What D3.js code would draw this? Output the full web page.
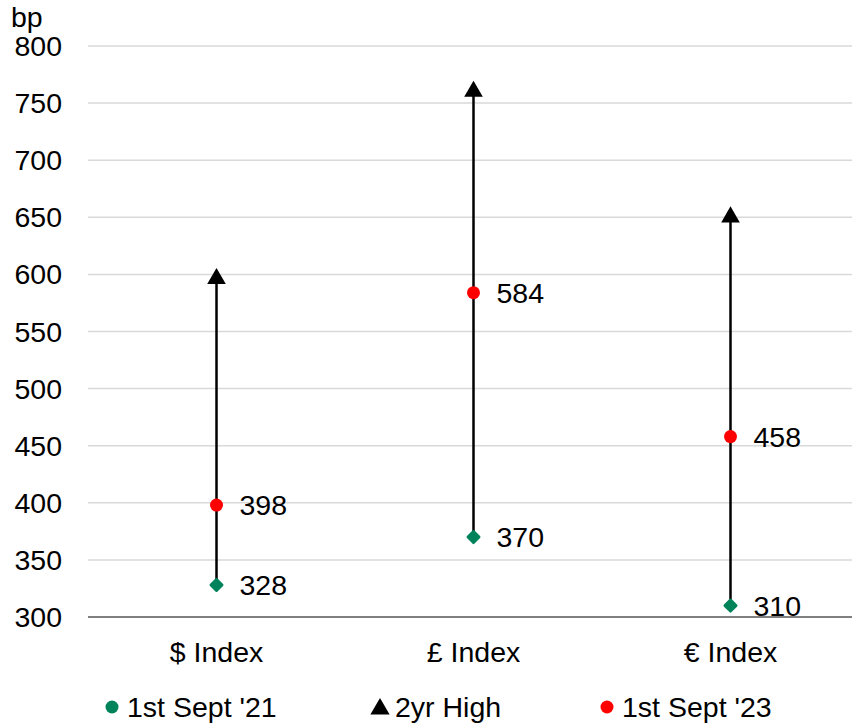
<!DOCTYPE html>
<html>
<head>
<meta charset="utf-8">
<script src="https://cdn.jsdelivr.net/npm/d3@7"></script>
<style>
  body { margin: 0; background: #fff; }
  svg text { font-family: "Liberation Sans", Arial, sans-serif; fill: #000; }
</style>
</head>
<body>
<svg id="chart" width="852" height="724"></svg>
<script>
// Spread indices, in basis points
const categories = ["$ Index", "£ Index", "€ Index"];
const sept21 = [328, 370, 310];
const high2yr = [598, 762, 652];
const sept23 = [398, 584, 458];
const yTicks = [300, 350, 400, 450, 500, 550, 600, 650, 700, 750, 800];
const legendLabels = ["1st Sept '21", "2yr High", "1st Sept '23"];

const green = "#00835A", red = "#FF0000";
const fs = 28.5;
const svg = d3.select("#chart");

const x = d3.scaleBand().domain(categories).range([88, 859]);
const y = d3.scaleLinear().domain([300, 800]).range([617, 46]);

// gridlines
svg.append("g").selectAll("line").data(yTicks.slice(1)).join("line")
  .attr("x1", 88).attr("x2", 852)
  .attr("y1", d => y(d)).attr("y2", d => y(d))
  .attr("stroke", "#d9d9d9").attr("stroke-width", 1.5);

// baseline
svg.append("line").attr("x1", 88).attr("x2", 852)
  .attr("y1", y(300)).attr("y2", y(300))
  .attr("stroke", "#808080").attr("stroke-width", 2);

// y tick labels
svg.append("g").selectAll("text").data(yTicks).join("text")
  .attr("x", 62).attr("y", d => y(d) + 10)
  .attr("text-anchor", "end").attr("font-size", fs).text(d => d);

svg.append("text").attr("x", 11).attr("y", 27).attr("font-size", fs).text("bp");

// category labels
svg.append("g").selectAll("text").data(categories).join("text")
  .attr("x", d => x(d) + x.bandwidth() / 2).attr("y", 662)
  .attr("text-anchor", "middle").attr("font-size", fs).text(d => d);

const cx = i => x(categories[i]) + x.bandwidth() / 2;
const tri = d3.symbol().type(d3.symbolTriangle).size(150);
const dia = d3.symbol().type(d3.symbolSquare).size(60);

categories.forEach((c, i) => {
  const g = svg.append("g");
  // range line from the 2021 level up to the 2-year high
  g.append("line")
    .attr("x1", cx(i)).attr("x2", cx(i))
    .attr("y1", y(sept21[i])).attr("y2", y(high2yr[i]) + 4)
    .attr("stroke", "#000").attr("stroke-width", 2.5);
  g.append("path").attr("d", tri)
    .attr("transform", `translate(${cx(i)},${y(high2yr[i]) + 2})`)
    .attr("fill", "#000");
  g.append("path").attr("d", dia)
    .attr("transform", `translate(${cx(i)},${y(sept21[i])}) rotate(45)`)
    .attr("fill", green).attr("stroke", green).attr("stroke-width", 3)
    .attr("stroke-linejoin", "round");
  g.append("circle").attr("cx", cx(i)).attr("cy", y(sept23[i]))
    .attr("r", 6.5).attr("fill", red);
  // value labels
  [sept21[i], sept23[i]].forEach(v => {
    g.append("text").attr("x", cx(i) + 23).attr("y", y(v) + 10)
      .attr("font-size", fs).text(v);
  });
});

// legend
const legendX = [112, 380, 607];
const lg = svg.append("g");
lg.append("circle").attr("cx", legendX[0]).attr("cy", 707).attr("r", 6.5).attr("fill", green);
lg.append("path").attr("d", d3.symbol().type(d3.symbolTriangle).size(160))
  .attr("transform", `translate(${legendX[1]},709)`).attr("fill", "#000");
lg.append("circle").attr("cx", legendX[2]).attr("cy", 707).attr("r", 6.5).attr("fill", red);
lg.selectAll("text").data(legendLabels).join("text")
  .attr("x", (d, i) => legendX[i] + 15).attr("y", 717)
  .attr("font-size", fs).text(d => d);
</script>
</body>
</html>
